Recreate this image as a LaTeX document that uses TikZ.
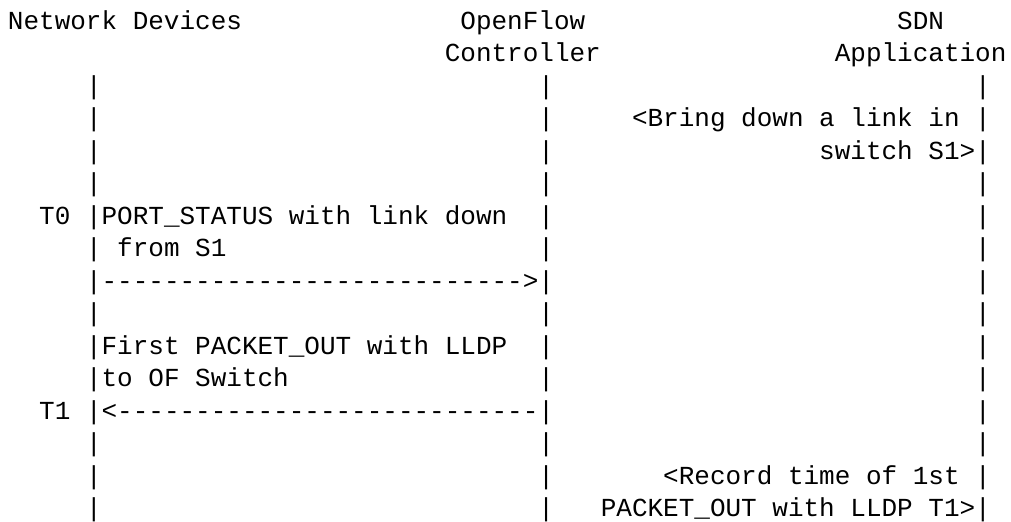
\documentclass[tikz,border=0pt]{standalone}
\usepackage{fontspec}
\newfontfamily\asciifont{Liberation Mono}
\tikzset{
  txt/.style={anchor=base west, inner sep=0pt, outer sep=0pt,
    font=\asciifont\fontsize{13}{15}\selectfont}
}
\begin{document}
\begin{tikzpicture}[x=7.8pt,y=-16.25pt]
  \useasboundingbox (0pt,0pt) rectangle (505.5pt,-260.5pt);
  \begin{scope}[shift={(4pt,-14.5pt)}]
    % heads
    \node[txt] (dev) at (0,0) {Network Devices};
    \node[txt] (ofc1) at (29,0) {OpenFlow};
    \node[txt] (ofc2) at (28,1) {Controller};
    \node[txt] (sdn1) at (57,0) {SDN};
    \node[txt] (sdn2) at (53,1) {Application};
    % lifelines
    \foreach \r in {2,...,15} {
      \node[txt] (dl\r) at (5,\r) {|};
      \node[txt] (cl\r) at (34,\r) {|};
      \node[txt] (al\r) at (62,\r) {|};
    }
    % messages
    \node[txt] (bring) at (40,3) {<Bring down a link in};
    \node[txt] (bring2) at (52,4) {switch S1>};
    \node[txt] (t0) at (2,6) {T0};
    \node[txt] (ps) at (6,6) {PORT\_STATUS with link down};
    \node[txt] (ps2) at (7,7) {from S1};
    \node[txt] (arr1) at (6,8) {--------------------------->};
    \node[txt] (po) at (6,10) {First PACKET\_OUT with LLDP};
    \node[txt] (po2) at (6,11) {to OF Switch};
    \node[txt] (t1) at (2,12) {T1};
    \node[txt] (arr2) at (6,12) {<---------------------------};
    \node[txt] (rec) at (42,14) {<Record time of 1st};
    \node[txt] (rec2) at (38,15) {PACKET\_OUT with LLDP T1>};
  \end{scope}
\end{tikzpicture}
\end{document}
